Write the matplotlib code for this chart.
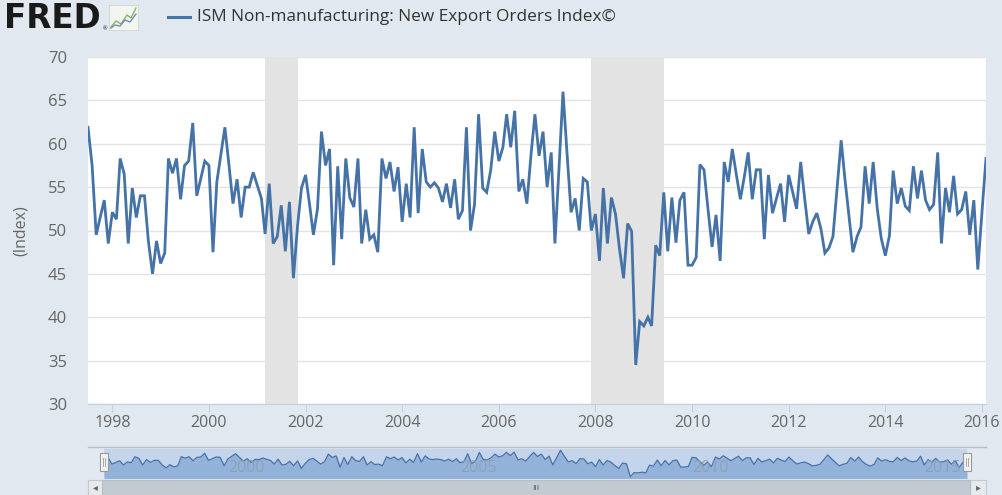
import numpy as np
import pandas as pd
import matplotlib
matplotlib.use("Agg")
import matplotlib.pyplot as plt
import matplotlib.dates as mdates
from matplotlib.patches import Rectangle

plt.rcParams['font.family'] = ['Open Sans', 'DejaVu Sans']

# monthly values, starting 1997-07
values = [
    61.9, 57.5, 49.5, 51.5, 53.5, 48.5, 52.1, 51.3, 58.3, 56.5, 48.5, 54.9,
    51.5, 54.0, 54.0, 48.7, 45.0, 48.8, 46.2, 47.4, 58.3, 56.6, 58.3,
    53.6, 57.5, 58.0, 62.4, 54.0, 56.0, 58.0, 57.5, 47.5, 55.6, 58.8, 61.9,
    57.5, 53.1, 55.9, 51.5, 55.0, 55.0, 56.7, 55.2, 53.7, 49.6,
    55.4, 48.5, 49.3, 52.9, 47.6, 53.3, 44.5, 50.5, 54.9, 56.4, 52.9, 49.5,
    52.5, 61.4, 57.5, 59.4, 46.0, 57.4, 49.0, 58.3, 53.8, 52.7,
    58.3, 48.5, 52.4, 49.0, 49.5, 47.5, 58.3, 56.0, 57.9, 54.5, 57.3, 51.0,
    55.4, 51.5, 61.9, 52.0, 59.4, 55.6, 55.0, 55.5, 54.9, 53.3,
    55.4, 52.6, 55.9, 51.3, 52.3, 61.9, 50.0, 53.0, 63.4, 54.9, 54.4, 57.0,
    61.4, 58.0, 59.6, 63.4, 59.6, 63.8, 54.5, 55.9, 53.1, 58.7, 63.4,
    58.6, 61.4, 55.0, 59.0, 48.5, 57.2, 66.0, 58.8, 52.1, 53.7, 50.0, 56.0,
    55.6, 50.0, 51.9, 46.5, 54.9, 48.5, 53.8, 51.9, 47.9, 44.5, 50.8,
    49.9, 34.5, 39.5, 39.0, 40.0, 39.0, 48.3, 47.1, 54.4, 47.6, 53.8, 48.6,
    53.5, 54.4, 46.0, 46.0, 46.9, 57.6, 57.0, 52.5, 48.1, 51.8,
    46.5, 57.9, 55.6, 59.4, 56.5, 53.6, 56.3, 59.0, 53.6, 57.0, 57.0, 49.0,
    56.4, 52.0, 53.7, 55.4, 51.0, 56.4, 54.4, 52.5, 57.9, 53.7, 49.6,
    51.0, 52.0, 50.2, 47.4, 48.0, 49.3, 54.8, 60.4, 56.0, 51.7, 47.5, 49.3,
    50.4, 57.4, 53.1, 57.9, 52.5, 49.1, 47.1, 49.4, 56.9,
    53.1, 54.9, 52.8, 52.3, 57.4, 53.7, 56.9, 53.5, 52.4, 53.0, 59.0, 48.5,
    54.9, 52.1, 56.3, 51.9, 52.4, 54.5, 49.5, 53.5, 45.5, 52.0, 58.3,
]
dates = pd.date_range("1997-07-01", periods=len(values), freq="MS")

recessions = [("2001-03-01", "2001-11-01"), ("2007-12-01", "2009-06-01")]
year_ticks = list(range(1998, 2017, 2))
nav_years = [2000, 2005, 2010, 2015]
y_ticks = list(range(30, 71, 5))
series_name = "ISM Non-manufacturing: New Export Orders Index©"

bg = "#e1e8ef"
blue = "#4572a7"
W, H = 1003, 495


def box(x0, y0, x1, y1):
    # pixel box -> figure fraction
    return [x0 / W, 1 - y1 / H, (x1 - x0) / W, (y1 - y0) / H]


fig = plt.figure(figsize=(W / 100, H / 100), dpi=100, facecolor=bg)

# main chart
ax = fig.add_axes(box(88, 57, 986, 404))
ax.set_facecolor("white")
ax.plot(dates, values, color=blue, lw=2.0, zorder=3, solid_joinstyle="miter")
for a, b in recessions:
    ax.axvspan(pd.Timestamp(a), pd.Timestamp(b), color="#e3e3e3", lw=0, zorder=1)
ax.set_xlim(dates[0], dates[-1])
ax.set_ylim(30, 70)
ax.set_yticks(y_ticks)
ax.yaxis.grid(True, color="#e3e3e3", lw=1, zorder=0)
ax.set_xticks([pd.Timestamp(f"{y}-01-01") for y in year_ticks])
ax.xaxis.set_major_formatter(mdates.DateFormatter("%Y"))
for s in ["top", "right", "left"]:
    ax.spines[s].set_visible(False)
ax.spines["bottom"].set_color("#c0d0e0")
ax.tick_params(axis="y", length=0, pad=15, labelsize=12, labelcolor="#666666")
ax.tick_params(axis="x", length=6, color="#c0d0e0", pad=2, labelsize=11.5,
               labelcolor="#666666")
ax.set_ylabel("(Index)", fontsize=11.5, color="#666666", labelpad=14)

# navigator
nav = fig.add_axes(box(104, 449, 967, 478))
nav.set_facecolor("#c4d4ea")
nav.fill_between(dates, values, 30, color="#93b2da", lw=0)
nav.plot(dates, values, color=blue, lw=0.9)
nav.set_xlim(dates[0], dates[-1])
nav.set_ylim(33, 67.5)
nav.set_xticks([])
nav.set_yticks([])
for s in nav.spines.values():
    s.set_visible(False)
for y in nav_years:
    nav.text(pd.Timestamp(f"{y}-03-01"), 35, str(y), fontsize=11.5,
             color="#8d9fb5", ha="left", va="bottom", alpha=0.9)

# header, scrollbar and handles drawn in pixel space
ov = fig.add_axes([0, 0, 1, 1], facecolor="none", zorder=10)
ov.set_xlim(0, W)
ov.set_ylim(H, 0)
ov.axis("off")

ov.text(4, 18, "FRED", fontsize=23.5, fontweight="heavy", color="#1a1a1a",
        va="center", ha="left", family=["DejaVu Sans"])
ov.text(103, 29, "®", fontsize=4, color="#1a1a1a", va="center", ha="left")
ov.add_patch(Rectangle((109, 5), 29, 25, fc="#f3f5f0", ec="#cfd4cc", lw=0.6))
ov.plot([111, 116, 121, 127, 131, 136], [27, 21, 24, 15, 18, 8], color="#8fb25a", lw=1)
ov.plot([111, 115, 120, 125, 130, 136], [28, 25, 26, 20, 22, 14], color="#6d8fc0", lw=1)

ov.plot([168, 190], [17, 17], color=blue, lw=2.2)
ov.text(197, 17, series_name, fontsize=12.4, color="#333333", va="center", ha="left")

ov.plot([88, 986], [446.5, 446.5], color="#b4bcc6", lw=1)
for hx in (104, 967):
    ov.add_patch(Rectangle((hx - 4, 453), 8, 18, fc="#f2f2f2", ec="#9a9a9a", lw=0.8))
    ov.plot([hx - 1, hx - 1], [458, 466], color="#9a9a9a", lw=0.6)
    ov.plot([hx + 1, hx + 1], [458, 466], color="#9a9a9a", lw=0.6)

ov.add_patch(Rectangle((88, 480), 898, 15, fc="#e6e9ed", ec="#c4cad1", lw=0.8))
ov.add_patch(Rectangle((102, 480), 868, 15, fc="#c4cad2", ec="#b5bcc4", lw=0.8))
ov.text(95, 488, "◂", fontsize=7, color="#666666", ha="center", va="center")
ov.text(978, 488, "▸", fontsize=7, color="#666666", ha="center", va="center")
ov.text(536, 488, "III", fontsize=6, color="#555555", ha="center", va="center")

fig.savefig("out.png", dpi=100, facecolor=bg)
